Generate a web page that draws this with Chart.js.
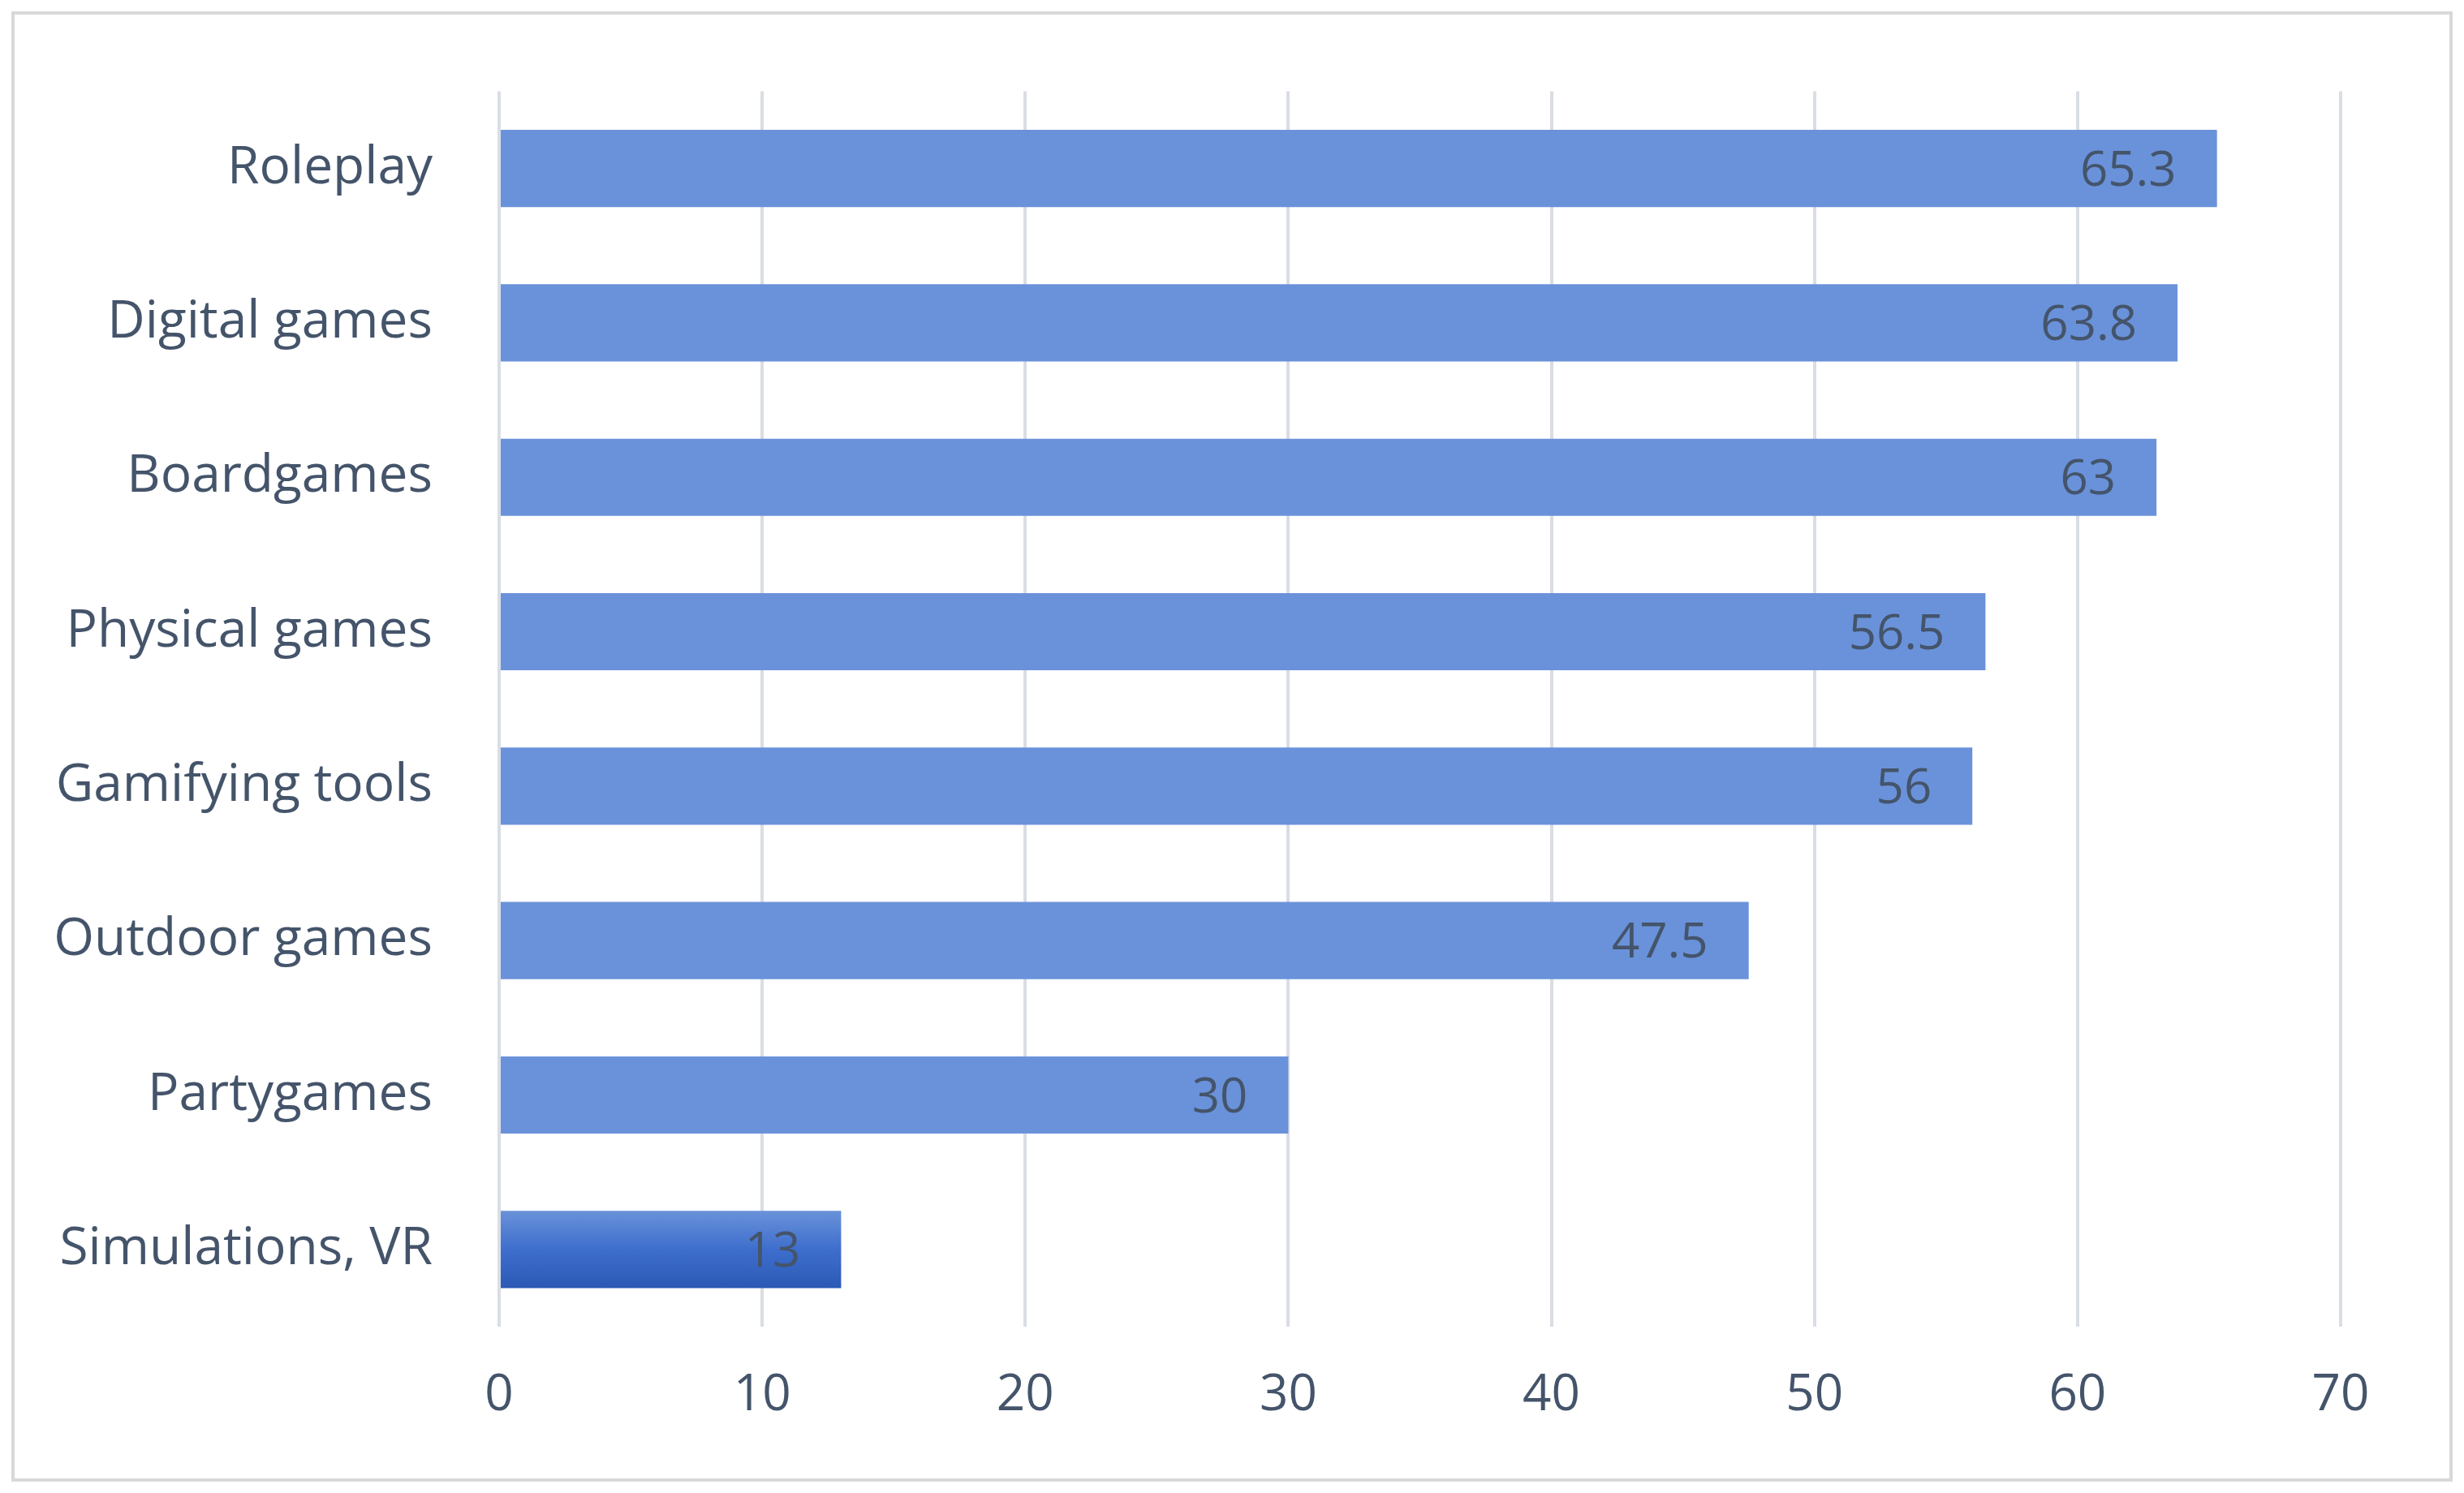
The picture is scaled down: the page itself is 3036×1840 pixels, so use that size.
<!DOCTYPE html>
<html>
<head>
<meta charset="utf-8">
<script src="https://cdn.jsdelivr.net/npm/chart.js@4.4.1/dist/chart.umd.min.js"></script>
<style>
  body { margin: 0; background: #fff; }
  #wrap { width: 3036px; height: 1840px; }
</style>
</head>
<body>
<div id="wrap"><canvas id="chart" width="3036" height="1840"></canvas></div>
<script>
const categories = ["Roleplay", "Digital games", "Boardgames", "Physical games", "Gamifying tools", "Outdoor games", "Partygames", "Simulations, VR"];
const values = [65.3, 63.8, 63, 56.5, 56, 47.5, 30, 13];
const xTicks = [0, 10, 20, 30, 40, 50, 60, 70];

const textColor = "#44546A";
const fontFamily = "'Open Sans', 'Liberation Sans', sans-serif";

// labels drawn inside the end of each bar
const valueLabels = {
  id: "valueLabels",
  afterDatasetsDraw(chart) {
    const ctx = chart.ctx;
    const meta = chart.getDatasetMeta(0);
    ctx.save();
    ctx.font = "60px " + fontFamily;
    ctx.fillStyle = textColor;
    ctx.textAlign = "right";
    ctx.textBaseline = "middle";
    meta.data.forEach((bar, i) => {
      ctx.fillText(String(values[i]), bar.x - 50, bar.y + 4);
    });
    ctx.restore();
  }
};

// vertical gradient per bar, set once geometry is known
const barGradients = {
  id: "barGradients",
  beforeDatasetsDraw(chart) {
    const ctx = chart.ctx;
    chart.getDatasetMeta(0).data.forEach((bar) => {
      const top = bar.y - bar.height / 2;
      const g = ctx.createLinearGradient(0, top, 0, top + bar.height);
      g.addColorStop(0, "#6a92da");
      g.addColorStop(0.5, "#3e6ecd");
      g.addColorStop(1, "#2b59b5");
      bar.options.backgroundColor = g;
    });
  }
};

// light frame around the whole chart
const frame = {
  id: "frame",
  beforeDraw(chart) {
    const ctx = chart.ctx;
    ctx.save();
    ctx.fillStyle = "#fff";
    ctx.fillRect(0, 0, chart.width, chart.height);
    ctx.strokeStyle = "#d9d9d9";
    ctx.lineWidth = 4;
    ctx.strokeRect(16, 16, chart.width - 32, chart.height - 32);
    ctx.restore();
  }
};

new Chart(document.getElementById("chart"), {
  type: "bar",
  data: {
    labels: categories,
    datasets: [{
      data: values,
      backgroundColor: "#3e6ecd",
      borderWidth: 0,
      categoryPercentage: 1,
      barPercentage: 0.5
    }]
  },
  plugins: [frame, barGradients, valueLabels],
  options: {
    indexAxis: "y",
    responsive: false,
    animation: false,
    devicePixelRatio: 1,
    layout: { padding: { left: 36, top: 110, right: 152, bottom: 55 } },
    plugins: { legend: { display: false }, tooltip: { enabled: false } },
    scales: {
      x: {
        min: 0,
        max: 70,
        afterBuildTicks(scale) { scale.ticks = xTicks.map(v => ({ value: v })); },
        afterFit(scale) { scale.height = 150; },
        grid: { color: "#d9dde4", lineWidth: 4, drawTicks: false },
        border: { display: false },
        ticks: { color: textColor, font: { size: 62, family: fontFamily }, padding: 48 }
      },
      y: {
        afterFit(scale) { scale.width = 579; },
        grid: { display: false },
        border: { display: false },
        ticks: { color: textColor, font: { size: 64, family: fontFamily }, padding: 74 }
      }
    }
  }
});
</script>
</body>
</html>
